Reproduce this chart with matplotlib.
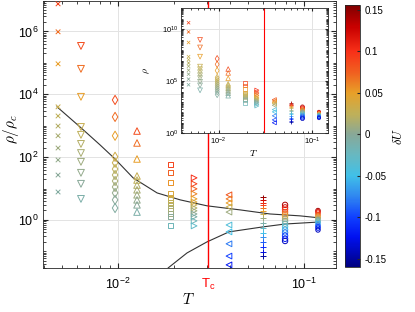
import numpy as np
import matplotlib
matplotlib.use("Agg")
import matplotlib.pyplot as plt
from matplotlib.colors import LinearSegmentedColormap, Normalize
from matplotlib.ticker import LogLocator, FuncFormatter, FixedLocator, NullFormatter

plt.rcParams['font.family'] = ['Liberation Sans', 'DejaVu Sans']
plt.rcParams['mathtext.fontset'] = 'cm'

# colormap anchors (dU, colour)
cm_du = [-0.16, -0.125, -0.1, -0.075, -0.05, -0.025, 0.0, 0.025, 0.05, 0.075, 0.1, 0.13, 0.156]
cm_col = ['#000080', '#0010f0', '#1040ff', '#3088f0', '#40c0e8', '#68b8c0', '#88a898',
          '#c0b058', '#e8a028', '#f06020', '#f83018', '#c80000', '#800000']
du_min, du_max = -0.16, 0.156

# critical temperature
Tc = 0.0305

# data columns: temperature, dU values, log10(rho/rho_c)
T_cols = [0.00476, 0.00632, 0.00964, 0.01265, 0.01905, 0.02565, 0.0395, 0.0603, 0.0791, 0.1189]
markers = ['x', 'v', 'd', '^', 's', '>', '<', '+', 'o', 'o']
log_rho_c = [3.77, 3.45, 3.35, 3.35, 3.07, 2.80, 2.42, 2.20, 2.05, 1.75]

dU_cols = [
    [0.09, 0.07, 0.05, 0.03, 0.025, 0.02, 0.015, 0.01, 0.005, 0.0, -0.005],
    [0.085, 0.07, 0.05, 0.03, 0.025, 0.02, 0.015, 0.01, 0.005, 0.0, -0.01],
    [0.085, 0.07, 0.05, 0.035, 0.03, 0.025, 0.02, 0.015, 0.01, 0.005, 0.0, -0.005],
    [0.085, 0.07, 0.05, 0.03, 0.025, 0.02, 0.015, 0.01, 0.005, 0.0, -0.01],
    [0.09, 0.075, 0.055, 0.04, 0.035, 0.03, 0.025, 0.02, 0.015, 0.01, 0.0, -0.02],
    [0.1, 0.09, 0.075, 0.06, 0.05, 0.04, 0.03, 0.02, 0.01, 0.0, -0.01, -0.02, -0.03],
    [0.08, 0.065, 0.05, 0.03, 0.01, -0.04, -0.05, -0.08, -0.1, -0.12],
    [0.15, 0.13, 0.11, 0.09, 0.07, 0.05, 0.03, 0.01, -0.01, -0.03, -0.05, -0.07, -0.09, -0.11, -0.13, -0.15],
    [0.14, 0.12, 0.1, 0.08, 0.06, 0.04, 0.02, 0.0, -0.02, -0.04, -0.06, -0.08, -0.1, -0.12, -0.14],
    [0.14, 0.12, 0.1, 0.08, 0.06, 0.04, 0.02, 0.0, -0.02, -0.04, -0.06, -0.08, -0.1, -0.12, -0.14],
]
lr_cols = [
    [6.88, 5.99, 4.97, 3.60, 3.31, 2.99, 2.68, 2.29, 1.91, 1.43, 0.89],
    [5.54, 4.81, 3.92, 2.96, 2.71, 2.42, 2.13, 1.85, 1.50, 1.15, 0.67],
    [3.82, 3.28, 2.68, 2.01, 1.82, 1.62, 1.43, 1.24, 1.05, 0.86, 0.64, 0.38],
    [2.83, 2.45, 1.94, 1.40, 1.27, 1.11, 0.96, 0.80, 0.64, 0.48, 0.25],
    [1.78, 1.50, 1.18, 0.83, 0.73, 0.64, 0.54, 0.45, 0.35, 0.22, 0.10, -0.19],
    [1.34, 1.15, 0.99, 0.83, 0.67, 0.57, 0.48, 0.38, 0.29, 0.19, 0.10, -0.03, -0.19],
    [0.80, 0.67, 0.54, 0.41, 0.25, -0.16, -0.38, -0.76, -1.15, -1.43],
    [0.72, 0.64, 0.55, 0.47, 0.37, 0.29, 0.18, 0.05, -0.11, -0.25, -0.41, -0.55, -0.71, -0.85, -1.01, -1.15],
    [0.48, 0.40, 0.33, 0.25, 0.18, 0.11, 0.03, -0.04, -0.12, -0.21, -0.31, -0.40, -0.50, -0.60, -0.67],
    [0.30, 0.26, 0.22, 0.17, 0.13, 0.09, 0.05, 0.01, -0.03, -0.07, -0.12, -0.17, -0.21, -0.26, -0.32],
]
msize = [11, 24, 22, 22, 13, 17, 17, 16, 15, 10]

# boundary curves (log10 rho/rho_c)
T_up = [0.0047, 0.00625, 0.0080, 0.00964, 0.01205, 0.01622, 0.02156, 0.03006, 0.0453, 0.0656, 0.0951, 0.1219]
lr_up = [3.60, 2.96, 2.39, 1.94, 1.34, 0.86, 0.64, 0.45, 0.32, 0.19, 0.13, 0.064]
T_lo = [0.0178, 0.01858, 0.0235, 0.03006, 0.0395, 0.0603, 0.0791, 0.1219]
lr_lo = [-1.75, -1.53, -1.05, -0.70, -0.38, -0.22, -0.13, -0.064]

cmap = LinearSegmentedColormap.from_list(
    'dU', [((d - du_min) / (du_max - du_min), c) for d, c in zip(cm_du, cm_col)])
norm = Normalize(du_min, du_max)

def pow_fmt(v, pos):
    return r'$\mathregular{10^{%d}}$' % int(round(np.log10(v)))

axcol = '#262626'
fig = plt.figure(figsize=(4.15, 3.12), dpi=100)
ax = fig.add_axes([43 / 415, 1 - 268 / 312, 293 / 415, 267 / 312])
ins = fig.add_axes([181 / 415, 1 - 133 / 312, 147 / 415, 125 / 312])
cax = fig.add_axes([345 / 415, 1 - 267 / 312, 15 / 415, 262 / 312])

for T, m, du, lr, lc, s in zip(T_cols, markers, dU_cols, lr_cols, log_rho_c, msize):
    cols = cmap(norm(np.array(du)))
    r = 10 ** np.array(lr)
    x = np.full(len(r), T)
    if m in ('x', '+'):
        ax.scatter(x, r, s=s, marker=m, c=cols, linewidths=0.7, zorder=3)
        ins.scatter(x, r * 10 ** lc, s=s * 0.5, marker=m, c=cols, linewidths=0.5, zorder=3)
    else:
        ax.scatter(x, r, s=s, marker=m, facecolors='none', edgecolors=cols, linewidths=0.7, zorder=3)
        ins.scatter(x, r * 10 ** lc, s=s * 0.5, marker=m, facecolors='none', edgecolors=cols,
                    linewidths=0.5, zorder=3)

ax.plot(T_up, 10 ** np.array(lr_up), color='#333333', lw=0.8, zorder=2)
ax.plot(T_lo, 10 ** np.array(lr_lo), color='#333333', lw=0.8, zorder=2)
ax.axvline(Tc, color='red', lw=1.0, zorder=2)
ins.axvline(Tc, color='red', lw=0.8, zorder=2)

for a in (ax, ins):
    a.set_xscale('log')
    a.set_yscale('log')
    a.set_xlim(0.00395, 0.1486)
    a.xaxis.set_major_locator(FixedLocator([0.01, 0.1]))
    a.xaxis.set_minor_locator(LogLocator(base=10, subs=np.arange(2, 10), numticks=20))
    a.xaxis.set_major_formatter(FuncFormatter(pow_fmt))
    a.xaxis.set_minor_formatter(NullFormatter())
    a.yaxis.set_minor_locator(LogLocator(base=10, subs=np.arange(1, 10), numticks=40))
    a.yaxis.set_major_formatter(FuncFormatter(pow_fmt))
    a.yaxis.set_minor_formatter(NullFormatter())
    a.grid(True, which='major', color='#e3e3e3', lw=0.7, zorder=0)
    a.set_axisbelow(True)
    a.tick_params(which='both', direction='in', top=True, right=True, colors=axcol)
    for sp in a.spines.values():
        sp.set_color(axcol)
        sp.set_linewidth(0.6)

ax.set_ylim(10 ** -1.53, 10 ** 6.97)
ax.yaxis.set_major_locator(FixedLocator([1, 1e2, 1e4, 1e6]))
ax.tick_params(which='major', length=3.5, labelsize=9, labelcolor='black')
ax.tick_params(axis='x', which='major', pad=6)
ax.tick_params(which='minor', length=2)
ax.set_ylabel(r'$\rho/\rho_c$', fontsize=11)
ax.yaxis.set_label_coords(-0.075, 0.52)
ax.set_xlabel(r'$T$', fontsize=11)
ax.xaxis.set_label_coords(0.495, -0.09)
ax.text(Tc, -0.035, r'$\mathregular{T_c}$', color='red', fontsize=9.5, ha='center', va='top',
        transform=ax.get_xaxis_transform())

ins.set_ylim(1, 10 ** 12.07)
ins.yaxis.set_major_locator(FixedLocator([1, 1e5, 1e10]))
ins.tick_params(which='major', length=2.5, labelsize=5.5, labelcolor='black', pad=2)
ins.tick_params(which='minor', length=1.5)
ins.set_ylabel(r'$\rho$', fontsize=7)
ins.yaxis.set_label_coords(-0.2, 0.5)
ins.set_xlabel(r'$T$', fontsize=7)
ins.xaxis.set_label_coords(0.49, -0.12)
ins.set_facecolor('white')

sm = plt.cm.ScalarMappable(cmap=cmap, norm=norm)
cb = fig.colorbar(sm, cax=cax)
cb.set_ticks([-0.15, -0.1, -0.05, 0, 0.05, 0.1, 0.15])
cb.set_ticklabels(['-0.15', '-0.1', '-0.05', '0', '0.05', '0.1', '0.15'])
cb.ax.tick_params(direction='in', length=2, labelsize=7, colors=axcol, labelcolor='black')
cb.outline.set_edgecolor(axcol)
cb.outline.set_linewidth(0.6)
cb.set_label(r'$\delta U$', fontsize=9, labelpad=4)

fig.savefig('out.png', dpi=100)
